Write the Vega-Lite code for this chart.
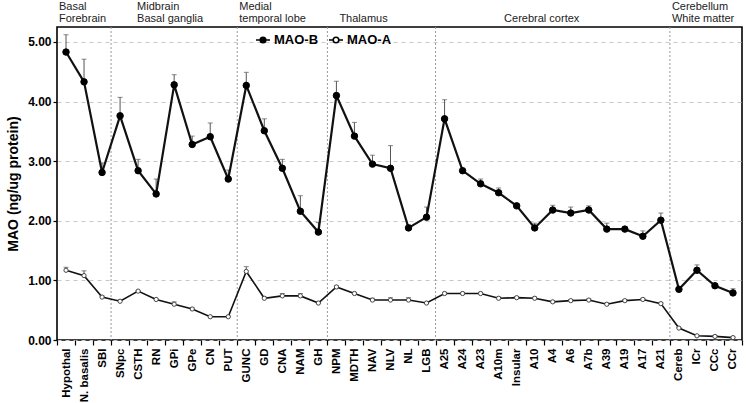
{
  "$schema": "https://vega.github.io/schema/vega-lite/v6.json",
  "width": 685,
  "height": 313,
  "autosize": "none",
  "padding": {"left": 57, "top": 27, "right": 4, "bottom": 63},
  "config": {
    "font": "Liberation Sans",
    "view": {"stroke": "#000", "strokeWidth": 1.6},
    "axis": {"labelColor": "#000", "titleColor": "#000", "tickColor": "#000"}
  },
  "datasets": {
    "main": [
      {"region": "Hypothal", "series": "MAO-B", "value": 4.83, "upper": 5.12},
      {"region": "N. basalis", "series": "MAO-B", "value": 4.33, "upper": 4.71},
      {"region": "SBI", "series": "MAO-B", "value": 2.81, "upper": 2.97},
      {"region": "SNpc", "series": "MAO-B", "value": 3.76, "upper": 4.07},
      {"region": "CSTH", "series": "MAO-B", "value": 2.84, "upper": 3.03},
      {"region": "RN", "series": "MAO-B", "value": 2.45, "upper": 2.7},
      {"region": "GPi", "series": "MAO-B", "value": 4.28, "upper": 4.45},
      {"region": "GPe", "series": "MAO-B", "value": 3.28, "upper": 3.42},
      {"region": "CN", "series": "MAO-B", "value": 3.41, "upper": 3.64},
      {"region": "PUT", "series": "MAO-B", "value": 2.7, "upper": 2.85},
      {"region": "GUNC", "series": "MAO-B", "value": 4.27, "upper": 4.49},
      {"region": "GD", "series": "MAO-B", "value": 3.51, "upper": 3.71},
      {"region": "CNA", "series": "MAO-B", "value": 2.88, "upper": 3.03},
      {"region": "NAM", "series": "MAO-B", "value": 2.16, "upper": 2.42},
      {"region": "GH", "series": "MAO-B", "value": 1.81, "upper": 1.97},
      {"region": "NPM", "series": "MAO-B", "value": 4.1, "upper": 4.34},
      {"region": "MDTH", "series": "MAO-B", "value": 3.42, "upper": 3.65},
      {"region": "NAV", "series": "MAO-B", "value": 2.95, "upper": 3.1},
      {"region": "NLV", "series": "MAO-B", "value": 2.88, "upper": 3.26},
      {"region": "NL", "series": "MAO-B", "value": 1.88, "upper": 1.93},
      {"region": "LGB", "series": "MAO-B", "value": 2.06, "upper": 2.23},
      {"region": "A25", "series": "MAO-B", "value": 3.71, "upper": 4.03},
      {"region": "A24", "series": "MAO-B", "value": 2.84, "upper": 2.86},
      {"region": "A23", "series": "MAO-B", "value": 2.62, "upper": 2.7},
      {"region": "A10m", "series": "MAO-B", "value": 2.47, "upper": 2.55},
      {"region": "Insular", "series": "MAO-B", "value": 2.25, "upper": 2.27},
      {"region": "A10", "series": "MAO-B", "value": 1.88, "upper": 1.96},
      {"region": "A4", "series": "MAO-B", "value": 2.18, "upper": 2.26},
      {"region": "A6", "series": "MAO-B", "value": 2.13, "upper": 2.23},
      {"region": "A7b", "series": "MAO-B", "value": 2.18, "upper": 2.25},
      {"region": "A39", "series": "MAO-B", "value": 1.86, "upper": 1.96},
      {"region": "A19", "series": "MAO-B", "value": 1.86, "upper": 1.87},
      {"region": "A17", "series": "MAO-B", "value": 1.74, "upper": 1.83},
      {"region": "A21", "series": "MAO-B", "value": 2.01, "upper": 2.13},
      {"region": "Cereb", "series": "MAO-B", "value": 0.85, "upper": 0.87},
      {"region": "ICr", "series": "MAO-B", "value": 1.17, "upper": 1.26},
      {"region": "CCc", "series": "MAO-B", "value": 0.91, "upper": 0.93},
      {"region": "CCr", "series": "MAO-B", "value": 0.79, "upper": 0.86},
      {"region": "Hypothal", "series": "MAO-A", "value": 1.17, "upper": 1.22},
      {"region": "N. basalis", "series": "MAO-A", "value": 1.08, "upper": 1.16},
      {"region": "SBI", "series": "MAO-A", "value": 0.72, "upper": 0.74},
      {"region": "SNpc", "series": "MAO-A", "value": 0.65, "upper": 0.67},
      {"region": "CSTH", "series": "MAO-A", "value": 0.82, "upper": 0.83},
      {"region": "RN", "series": "MAO-A", "value": 0.68, "upper": 0.69},
      {"region": "GPi", "series": "MAO-A", "value": 0.6, "upper": 0.64},
      {"region": "GPe", "series": "MAO-A", "value": 0.52, "upper": 0.54},
      {"region": "CN", "series": "MAO-A", "value": 0.39, "upper": 0.4},
      {"region": "PUT", "series": "MAO-A", "value": 0.39, "upper": 0.4},
      {"region": "GUNC", "series": "MAO-A", "value": 1.15, "upper": 1.23},
      {"region": "GD", "series": "MAO-A", "value": 0.7, "upper": 0.72},
      {"region": "CNA", "series": "MAO-A", "value": 0.74, "upper": 0.78},
      {"region": "NAM", "series": "MAO-A", "value": 0.74, "upper": 0.78},
      {"region": "GH", "series": "MAO-A", "value": 0.62, "upper": 0.64},
      {"region": "NPM", "series": "MAO-A", "value": 0.89, "upper": 0.91},
      {"region": "MDTH", "series": "MAO-A", "value": 0.78, "upper": 0.8},
      {"region": "NAV", "series": "MAO-A", "value": 0.67, "upper": 0.7},
      {"region": "NLV", "series": "MAO-A", "value": 0.67, "upper": 0.71},
      {"region": "NL", "series": "MAO-A", "value": 0.67, "upper": 0.71},
      {"region": "LGB", "series": "MAO-A", "value": 0.62, "upper": 0.63},
      {"region": "A25", "series": "MAO-A", "value": 0.78, "upper": 0.8},
      {"region": "A24", "series": "MAO-A", "value": 0.78, "upper": 0.8},
      {"region": "A23", "series": "MAO-A", "value": 0.78, "upper": 0.8},
      {"region": "A10m", "series": "MAO-A", "value": 0.7, "upper": 0.72},
      {"region": "Insular", "series": "MAO-A", "value": 0.71, "upper": 0.73},
      {"region": "A10", "series": "MAO-A", "value": 0.7, "upper": 0.72},
      {"region": "A4", "series": "MAO-A", "value": 0.64, "upper": 0.65},
      {"region": "A6", "series": "MAO-A", "value": 0.66, "upper": 0.68},
      {"region": "A7b", "series": "MAO-A", "value": 0.67, "upper": 0.69},
      {"region": "A39", "series": "MAO-A", "value": 0.6, "upper": 0.62},
      {"region": "A19", "series": "MAO-A", "value": 0.66, "upper": 0.68},
      {"region": "A17", "series": "MAO-A", "value": 0.68, "upper": 0.7},
      {"region": "A21", "series": "MAO-A", "value": 0.61, "upper": 0.62},
      {"region": "Cereb", "series": "MAO-A", "value": 0.2, "upper": 0.21},
      {"region": "ICr", "series": "MAO-A", "value": 0.07, "upper": 0.08},
      {"region": "CCc", "series": "MAO-A", "value": 0.06, "upper": 0.07},
      {"region": "CCr", "series": "MAO-A", "value": 0.04, "upper": 0.05}
    ],
    "seps": [
      {"region": "SNpc"}, {"region": "GUNC"}, {"region": "NPM"}, {"region": "A25"}, {"region": "Cereb"}
    ]
  },
  "encoding": {
    "x": {
      "field": "region",
      "type": "nominal",
      "scale": {
        "type": "band",
        "paddingInner": 0,
        "paddingOuter": 0,
        "domain": ["Hypothal", "N. basalis", "SBI", "SNpc", "CSTH", "RN", "GPi", "GPe", "CN", "PUT", "GUNC", "GD", "CNA", "NAM", "GH", "NPM", "MDTH", "NAV", "NLV", "NL", "LGB", "A25", "A24", "A23", "A10m", "Insular", "A10", "A4", "A6", "A7b", "A39", "A19", "A17", "A21", "Cereb", "ICr", "CCc", "CCr"]
      },
      "axis": {
        "title": null,
        "domain": false,
        "grid": false,
        "labelAngle": -90,
        "labelAlign": "right",
        "labelBaseline": "middle",
        "labelFontWeight": "bold",
        "labelFontSize": 11.5,
        "labelPadding": 3,
        "tickBand": "extent",
        "tickSize": 5,
        "tickWidth": 1.2
      }
    }
  },
  "layer": [
    {
      "data": {"name": "seps"},
      "mark": {"type": "rule", "color": "#999", "strokeDash": [2, 2], "strokeWidth": 1},
      "encoding": {"x": {"field": "region", "type": "nominal", "bandPosition": 0}}
    },
    {
      "data": {"name": "main"},
      "mark": {"type": "rule", "color": "#555", "strokeWidth": 1},
      "encoding": {
        "y": {
          "field": "value",
          "type": "quantitative",
          "scale": {"domain": [0, 5.25], "nice": false, "zero": true},
          "axis": {
            "values": [0, 0.5, 1, 1.5, 2, 2.5, 3, 3.5, 4, 4.5, 5],
            "format": ".2f",
            "domain": false,
            "grid": true,
            "gridColor": "#c8c8c8",
            "gridDash": [4, 4],
            "gridWidth": 1,
            "labelFontWeight": "bold",
            "labelFontSize": 12,
            "labelPadding": 2,
            "tickSize": 4,
            "tickWidth": 1.2,
            "title": "MAO (ng/ug protein)",
            "titleFontSize": 14,
            "titleFontWeight": "bold",
            "titlePadding": 7
          }
        },
        "y2": {"field": "upper"}
      }
    },
    {
      "data": {"name": "main"},
      "mark": {"type": "tick", "color": "#555", "size": 5, "thickness": 1},
      "encoding": {"y": {"field": "upper", "type": "quantitative"}}
    },
    {
      "data": {"name": "main"},
      "transform": [{"filter": "datum.series === 'MAO-B'"}],
      "mark": {"type": "line", "color": "#111", "strokeWidth": 2.2},
      "encoding": {"y": {"field": "value", "type": "quantitative"}}
    },
    {
      "data": {"name": "main"},
      "transform": [{"filter": "datum.series === 'MAO-A'"}],
      "mark": {"type": "line", "color": "#111", "strokeWidth": 1.6},
      "encoding": {"y": {"field": "value", "type": "quantitative"}}
    },
    {
      "data": {"name": "main"},
      "transform": [{"filter": "datum.series === 'MAO-B'"}],
      "mark": {"type": "point", "shape": "circle", "filled": true, "strokeWidth": 1, "stroke": "#000", "size": 42, "opacity": 1},
      "encoding": {
        "y": {"field": "value", "type": "quantitative"},
        "fill": {"field": "series", "type": "nominal"}
      }
    },
    {
      "data": {"name": "main"},
      "transform": [{"filter": "datum.series === 'MAO-A'"}],
      "mark": {"type": "point", "shape": "circle", "filled": true, "strokeWidth": 1, "stroke": "#444", "size": 18, "opacity": 1},
      "encoding": {
        "y": {"field": "value", "type": "quantitative"},
        "fill": {
          "field": "series",
          "type": "nominal",
          "scale": {"domain": ["MAO-B", "MAO-A"], "range": ["#000", "#fff"]},
          "legend": {
            "title": null,
            "orient": "none",
            "legendX": 198,
            "legendY": 5,
            "direction": "horizontal",
            "labelFontSize": 13,
            "labelFontWeight": "bold",
            "labelColor": "#000",
            "labelOffset": 3,
            "columnPadding": 6,
            "symbolType": "M-1,0H-0.4M0.4,0H1M0.4,0A0.4,0.4 0 1 1 -0.4,0A0.4,0.4 0 1 1 0.4,0",
            "symbolSize": 196,
            "symbolStrokeColor": "#000",
            "symbolStrokeWidth": 1.6,
            "symbolOpacity": 1
          }
        }
      }
    },
    {
      "data": {"values": [
        {"region": "Hypothal", "label": ["Basal", "Forebrain"]},
        {"region": "GUNC", "label": ["Medial", "temporal lobe"]},
        {"region": "Cereb", "label": ["Cerebellum", "White matter"]}
      ]},
      "mark": {"type": "text", "align": "left", "baseline": "bottom", "dx": 2, "dy": -15, "fontSize": 11, "color": "#222", "lineHeight": 12},
      "encoding": {
        "x": {"field": "region", "type": "nominal", "bandPosition": 0},
        "y": {"datum": 5.25, "type": "quantitative"},
        "text": {"field": "label"}
      }
    },
    {
      "data": {"values": [
        {"region": "CSTH", "label": ["Midbrain", "Basal ganglia"]}
      ]},
      "mark": {"type": "text", "align": "left", "baseline": "bottom", "dx": 8, "dy": -15, "fontSize": 11, "color": "#222", "lineHeight": 12},
      "encoding": {
        "x": {"field": "region", "type": "nominal", "bandPosition": 0},
        "y": {"datum": 5.25, "type": "quantitative"},
        "text": {"field": "label"}
      }
    },
    {
      "data": {"values": [
        {"region": "NPM", "label": "Thalamus"}
      ]},
      "mark": {"type": "text", "align": "left", "baseline": "bottom", "dx": 12, "dy": -3, "fontSize": 11, "color": "#222"},
      "encoding": {
        "x": {"field": "region", "type": "nominal", "bandPosition": 0},
        "y": {"datum": 5.25, "type": "quantitative"},
        "text": {"field": "label"}
      }
    },
    {
      "data": {"values": [
        {"region": "A10", "label": "Cerebral cortex"}
      ]},
      "mark": {"type": "text", "align": "center", "baseline": "bottom", "dx": 7, "dy": -3, "fontSize": 11, "color": "#222"},
      "encoding": {
        "x": {"field": "region", "type": "nominal"},
        "y": {"datum": 5.25, "type": "quantitative"},
        "text": {"field": "label"}
      }
    }
  ]
}
